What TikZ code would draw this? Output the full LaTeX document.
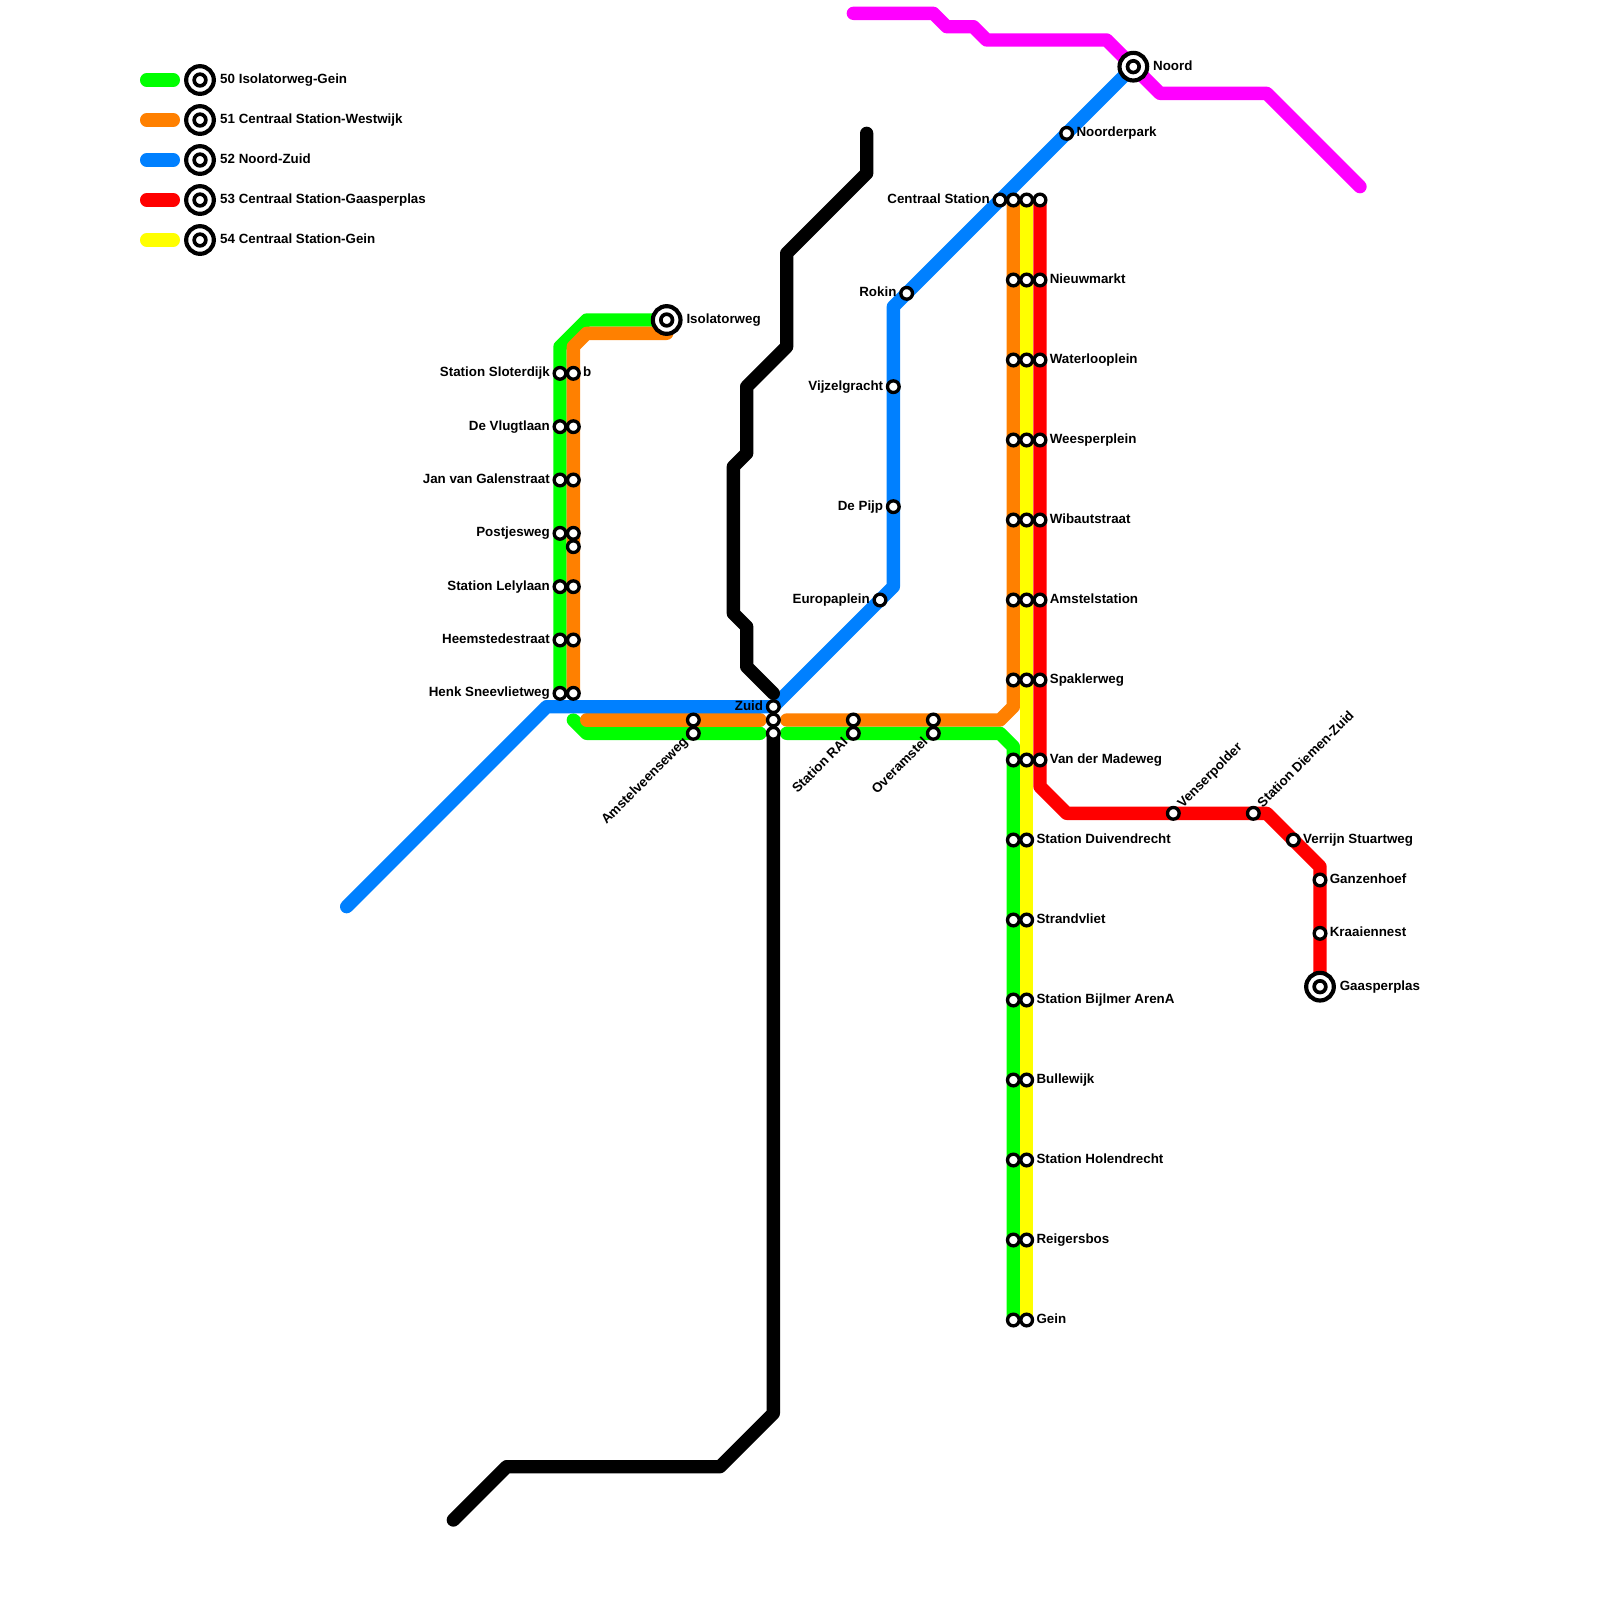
\documentclass[tikz,border=0pt]{standalone}
\usepackage{fontspec}
\setmainfont{Liberation Sans}
\definecolor{lgreen}{RGB}{0,255,0}
\definecolor{lorange}{RGB}{255,128,0}
\definecolor{lblue}{RGB}{0,128,255}
\definecolor{lred}{RGB}{255,0,0}
\definecolor{lyellow}{RGB}{255,255,0}
\definecolor{lmag}{RGB}{255,0,255}
\tikzset{
  route/.style={line width=4mm, line cap=round, line join=round},
  stop/.style={circle, draw=black, fill=white, line width=1mm, inner sep=0pt, outer sep=0pt, minimum size=3.5mm},
  ring/.style={circle, draw=black, fill=white, line width=1.25mm, inner sep=0pt, outer sep=0pt, minimum size=8.3mm},
  lab/.style={font=\bfseries\fontsize{11.4}{13}\selectfont, inner sep=0pt, text=black},
  rlab/.style={lab, anchor=base west},
  llab/.style={lab, anchor=base east},
  uplab/.style={rlab, rotate=45},
  dnlab/.style={llab, rotate=45},
}
\newcommand{\Term}[2]{\node[ring] (#1r) at (#2) {}; \node[stop, line width=1.1mm] (#1) at (#2) {};}
\begin{document}
\begin{tikzpicture}[x=0.4cm, y=-0.4cm]
  \useasboundingbox (0,0) rectangle (120,120);
  \coordinate (isolator) at (50,24);
  \coordinate (isolatorb) at (50,25);
  \coordinate (noord) at (85,5);
  \coordinate (gaasper) at (99,74);
  \coordinate (zuid) at (58,53);
  % routes
  \draw[route, lgreen] (isolator) -- (44,24) -- (42,26) -- (42,52);
  \draw[route, lgreen] (43,54) -- (44,55) -- (57,55);
  \draw[route, lgreen] (59,55) -- (75,55) -- (76,56) -- (76,99);
  \draw[route, lorange] (isolatorb) -- (44,25) -- (43,26) -- (43,52);
  \draw[route, lorange] (44,54) -- (57,54);
  \draw[route, lorange] (59,54) -- (75,54) -- (76,53) -- (76,15);
  \draw[route, lmag] (64,1) -- (70,1) -- (71,2) -- (73,2) -- (74,3) -- (83,3) -- (noord)
    -- (87,7) -- (95,7) -- (102,14);
  \draw[route, lblue] (26,68) -- (41,53) -- (zuid) -- (66,45) -- (67,44) -- (67,23) -- (noord);
  \draw[route, lred] (78,15) -- (78,59) -- (80,61) -- (95,61) -- (99,65) -- (gaasper);
  \draw[route, lyellow] (77,15) -- (77,99);
  \draw[route, black] (65,10) -- (65,13) -- (59,19) -- (59,26) -- (56,29) -- (56,34) -- (55,35)
    -- (55,46) -- (56,47) -- (56,50) -- (58,52);
  \draw[route, black] (58,55) -- (58,106) -- (54,110) -- (38,110) -- (34,114);
  % legend
  \foreach \y/\c/\txt in {6/lgreen/50 Isolatorweg-Gein, 9/lorange/51 Centraal Station-Westwijk,
      12/lblue/52 Noord-Zuid, 15/lred/53 Centraal Station-Gaasperplas, 18/lyellow/54 Centraal Station-Gein}{
    \coordinate (ka\y) at (11,\y);
    \coordinate (kb\y) at (13,\y);
    \draw[route, \c] (ka\y) -- (kb\y);
    \Term{key\y}{15,\y}
    \node[rlab] (kt\y) at (16.5,\y+.25) {\txt};
  }
  % west branch
  \foreach \y/\txt in {28/Station Sloterdijk, 32/De Vlugtlaan, 36/Jan van Galenstraat, 40/Postjesweg,
      44/Station Lelylaan, 48/Heemstedestraat, 52/Henk Sneevlietweg}{
    \node[stop] (w\y) at (42,\y) {};
    \node[stop] (o\y) at (43,\y) {};
    \node[llab] (wt\y) at (41.25,\y+.25) {\txt};
  }
  \node[stop] (o41) at (43,41) {};
  \node[rlab] (ot28) at (43.72,28.25) {b};
  % trunk
  \foreach \y/\txt in {21/Nieuwmarkt, 27/Waterlooplein, 33/Weesperplein, 39/Wibautstraat,
      45/Amstelstation, 51/Spaklerweg, 57/Van der Madeweg}{
    \node[stop] (a\y) at (76,\y) {};
    \node[stop] (b\y) at (77,\y) {};
    \node[stop] (c\y) at (78,\y) {};
    \node[rlab] (ct\y) at (78.72,\y+.25) {\txt};
  }
  \foreach \y/\txt in {63/Station Duivendrecht, 69/Strandvliet, 75/Station Bijlmer ArenA, 81/Bullewijk,
      87/Station Holendrecht, 93/Reigersbos, 99/Gein}{
    \node[stop] (a\y) at (76,\y) {};
    \node[stop] (b\y) at (77,\y) {};
    \node[rlab] (bt\y) at (77.72,\y+.25) {\txt};
  }
  \foreach \x in {75,76,77,78}
    \node[stop] (cs\x) at (\x,15) {};
  \node[llab] (cst) at (74.25,15.25) {Centraal Station};
  % noord-zuid
  \foreach \x/\y/\txt in {68/22/Rokin, 67/29/Vijzelgracht, 67/38/De Pijp, 66/45/Europaplein, 58/53/Zuid}{
    \node[stop] (n\y) at (\x,\y) {};
    \node[llab] (nt\y) at (\x-.75,\y+.25) {\txt};
  }
  \node[stop] (npark) at (80,10) {};
  \node[rlab] (nparkt) at (80.72,10.25) {Noorderpark};
  \node[stop] (z54) at (58,54) {};
  \node[stop] (z55) at (58,55) {};
  % ring stations
  \foreach \x/\txt in {52/Amstelveenseweg, 64/Station RAI, 70/Overamstel}{
    \node[stop] (h\x) at (\x,54) {};
    \node[stop] (g\x) at (\x,55) {};
    \node[dnlab] (gt\x) at (\x-.354,55.707) {\txt};
  }
  % east branch
  \foreach \x/\txt in {88/Venserpolder, 94/Station Diemen-Zuid}{
    \node[stop] (e\x) at (\x,61) {};
    \node[uplab] (et\x) at (\x+.70,60.62) {\txt};
  }
  \node[stop] (verrijn) at (97,63) {};
  \node[rlab] (verrijnt) at (97.72,63.25) {Verrijn Stuartweg};
  \node[stop] (ganzen) at (99,66) {};
  \node[rlab] (ganzent) at (99.72,66.25) {Ganzenhoef};
  \node[stop] (kraai) at (99,70) {};
  \node[rlab] (kraait) at (99.72,70.25) {Kraaiennest};
  % termini
  \Term{isolatort}{isolator}
  \node[rlab] (isolatorl) at (51.47,24.25) {Isolatorweg};
  \Term{noordt}{noord}
  \node[rlab] (noordl) at (86.47,5.25) {Noord};
  \Term{gaaspert}{gaasper}
  \node[rlab] (gaasperl) at (100.47,74.25) {Gaasperplas};
\end{tikzpicture}
\end{document}
